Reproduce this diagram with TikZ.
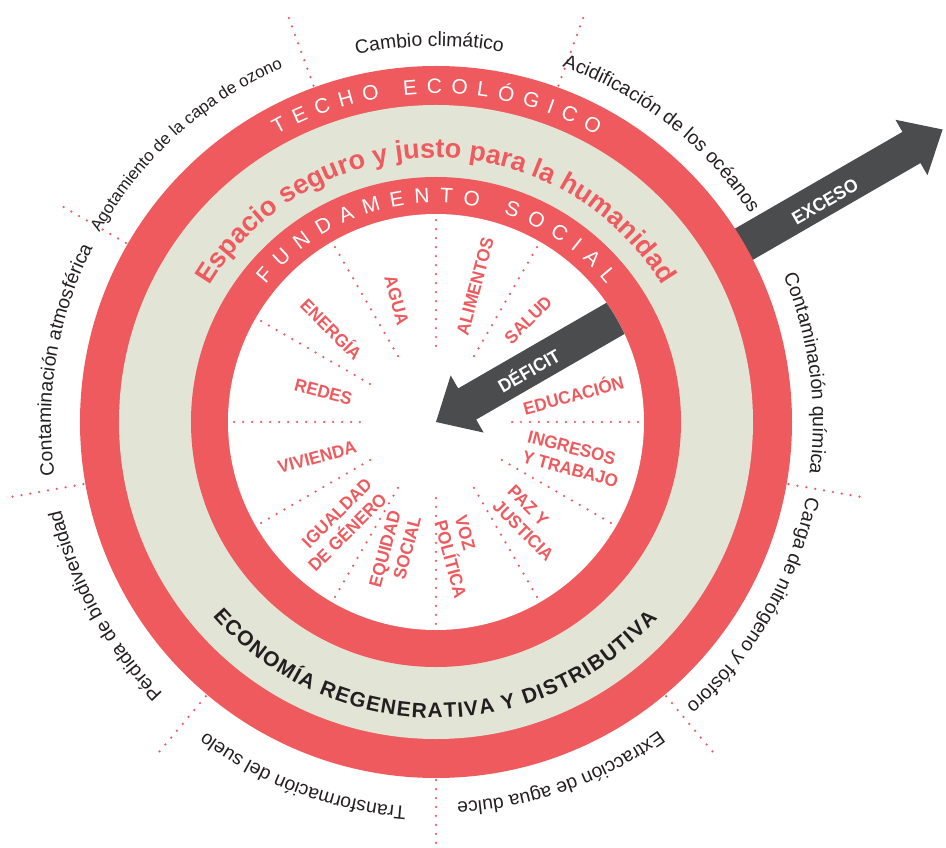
\documentclass[tikz,border=0pt]{standalone}
\usepackage{fontspec}
\setmainfont{Liberation Sans}
\newfontfamily\condfont[FakeStretch=0.95]{Liberation Sans}
\usetikzlibrary{decorations.text}

\definecolor{ringred}{HTML}{EF5A5E}
\definecolor{sand}{HTML}{E2E4D6}
\definecolor{arrowgray}{HTML}{4B4C4E}
\definecolor{ink}{HTML}{231F20}

\begin{document}
\begin{tikzpicture}[x=0.02cm, y=0.02cm,
  dots/.style={ringred, line width=0.05cm, line cap=round, dash pattern=on 0pt off 0.18cm},
  need/.style={font=\condfont\bfseries\fontsize{10.2}{12}\selectfont, text=ringred, inner sep=0pt},
  arrowlbl/.style={font=\condfont\bfseries\fontsize{10.5}{12}\selectfont, text=white, inner sep=0pt},
  bound/.style 2 args={decorate, decoration={text along path, text align=center, text color=ink,
      text={|\fontsize{#1}{13}\selectfont|#2}}},
  ringtext/.style={decorate, decoration={text along path, text align={fit to path}, text color=white,
      text={|\fontsize{11.9}{14}\selectfont|#1}}}]
\useasboundingbox (-436,-426) rectangle (510,422);

\foreach \a in {-90,-50,...,230}
  \draw[dots] (\a:358) -- (\a:433);

\fill[arrowgray, rotate=30] (300,-18) -- (549,-18) -- (549,-32) -- (585,0) -- (549,32) -- (549,18) -- (300,18) -- cycle;

\fill[ringred] (0,0) circle[radius=356];
\fill[sand] (0,0) circle[radius=317];
\fill[ringred] (0,0) circle[radius=245];
\fill[white] (0,0) circle[radius=208];

\foreach \a in {0,30,...,330}
  \draw[dots] (\a:76) -- (\a:206);

\begin{scope}
\clip (0,0) circle[radius=208];
\fill[arrowgray, rotate=30] (0,0) -- (36,33) -- (36,18) -- (240,18) -- (240,-18) -- (36,-18) -- (36,-33) -- cycle;
\end{scope}

\node[arrowlbl, rotate=30] (exceso) at (29.5:447) {EXCESO};
\node[arrowlbl, rotate=30] (deficit) at (29.5:106) {DÉFICIT};

\path[ringtext={TECHO ECOLÓGICO}] (119:328.5) arc[start angle=119, end angle=60.8, radius=328.5];
\path[ringtext={FUNDAMENTO SOCIAL}] (141:219) arc[start angle=141, end angle=38.8, radius=219];
\path[decorate, decoration={text along path, text align=center, text color=ringred,
    text={|\bfseries\fontsize{15.4}{18}\selectfont|Espacio seguro y justo para la humanidad}}]
  (160:264) arc[start angle=160, end angle=20, radius=264];
\path[decorate, decoration={text along path, text align={fit to path}, text color=ink,
    text={|\bfseries\fontsize{11.9}{14}\selectfont|ECONOMÍA REGENERATIVA Y DISTRIBUTIVA}}]
  (221:296) arc[start angle=221, end angle=318.5, radius=296];

\node[need, rotate=-75] (agua) at (107.9:128) {AGUA};
\node[need, rotate=75] (alimentos) at (73.9:141) {ALIMENTOS};
\node[need, rotate=45] (salud) at (47.9:137.6) {SALUD};
\node[need, rotate=15] (educacion) at (11.5:140) {EDUCACIÓN};
\node[need, rotate=-15, align=left] (ingresos) at (-15.1:142) {INGRESOS\\Y TRABAJO};
\node[need, rotate=-45, align=left] (paz) at (-46.9:138.7) {PAZ Y\\JUSTICIA};
\node[need, rotate=-75, align=left] (voz) at (-79.6:137) {VOZ\\POLÍTICA};
\node[need, rotate=75, align=right] (equidad) at (-107.5:136) {EQUIDAD\\SOCIAL};
\node[need, rotate=45, align=right] (igualdad) at (-133:140.8) {IGUALDAD\\DE GÉNERO};
\node[need, rotate=15] (vivienda) at (-163.5:124) {VIVIENDA};
\node[need, rotate=-15] (redes) at (165.2:116.5) {REDES};
\node[need, rotate=-45] (energia) at (138:139.7) {ENERGÍA};

\path[bound={11}{Cambio climático}] (121:376) arc[start angle=121, end angle=61, radius=376];
\path[bound={11}{Acidificación de los océanos}] (82:377) arc[start angle=82, end angle=22, radius=377];
\path[bound={11}{Contaminación química}] (37.5:377) arc[start angle=37.5, end angle=-22.5, radius=377];
\path[bound={11}{Carga de nitrógeno y fósforo}] (0:378) arc[start angle=0, end angle=-60, radius=378];
\path[bound={11}{Extracción de agua dulce}] (-40.5:381) arc[start angle=-40.5, end angle=-100.5, radius=381];
\path[bound={11}{Transformación del suelo}] (-80.5:386) arc[start angle=-80.5, end angle=-140.5, radius=386];
\path[bound={11}{Pérdida de biodiversidad}] (239:385) arc[start angle=239, end angle=179, radius=385];
\path[bound={11}{Contaminación atmosférica}] (200.5:385) arc[start angle=200.5, end angle=140.5, radius=385];
\path[bound={9.6}{Agotamiento de la capa de ozono}] (162:386) arc[start angle=162, end angle=102, radius=386];
\end{tikzpicture}
\end{document}
